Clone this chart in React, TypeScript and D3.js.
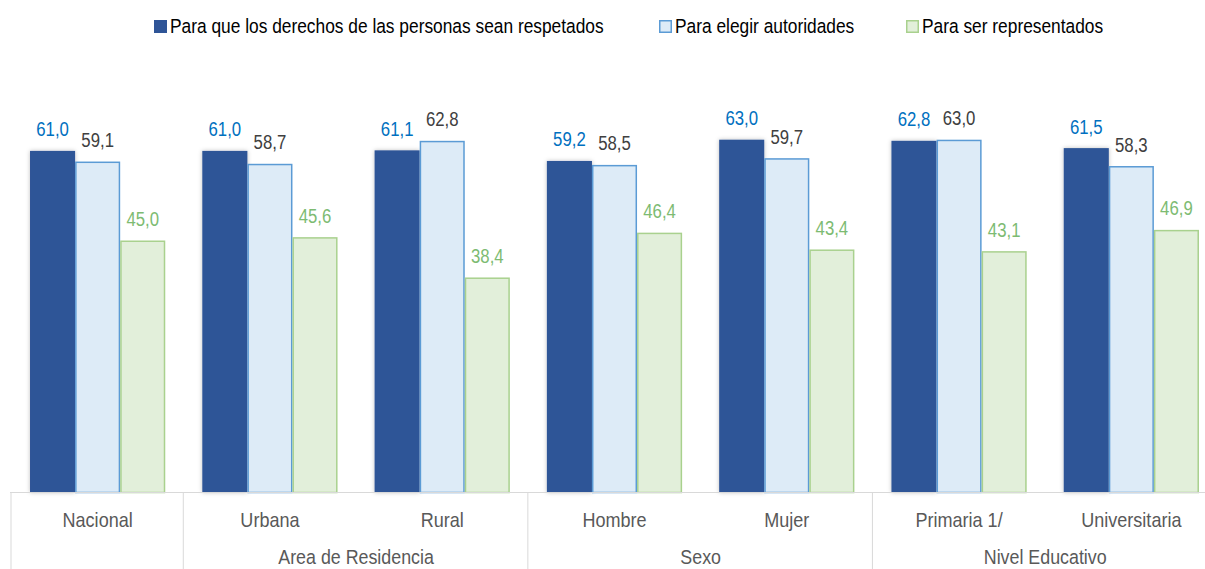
import React from "react";
import * as d3 from "d3";

const categories = ["Nacional", "Urbana", "Rural", "Hombre", "Mujer", "Primaria 1/", "Universitaria"];
const seriesNames = [
  "Para que los derechos de las personas sean respetados",
  "Para elegir autoridades",
  "Para ser representados",
];
const derechos = [61.0, 61.0, 61.1, 59.2, 63.0, 62.8, 61.5];
const autoridades = [59.1, 58.7, 62.8, 58.5, 59.7, 63.0, 58.3];
const representados = [45.0, 45.6, 38.4, 46.4, 43.4, 43.1, 46.9];
const groups = [
  { name: "", from: 0, to: 0 },
  { name: "Area de Residencia", from: 1, to: 2 },
  { name: "Sexo", from: 3, to: 4 },
  { name: "Nivel Educativo", from: 5, to: 6 },
];

const W = 1205;
const H = 569;
const FONT = "'Liberation Sans', Arial, sans-serif";

const styles = [
  { fill: "#2F5597", stroke: "#2F5597", label: "#0070C0" },
  { fill: "#DDEBF7", stroke: "#5B9BD5", label: "#404040" },
  { fill: "#E2EFDA", stroke: "#A9D18E", label: "#7DBB72" },
];

function NText(props: {
  x: number;
  y: number;
  sx: number;
  size: number;
  fill: string;
  anchor?: "start" | "middle" | "end";
  children: React.ReactNode;
}) {
  const { x, y, sx, size, fill, anchor = "middle", children } = props;
  return (
    <text
      transform={`translate(${x},${y}) scale(${sx},1)`}
      textAnchor={anchor}
      fontSize={size}
      fill={fill}
    >
      {children}
    </text>
  );
}

export default function App() {
  const data = [derechos, autoridades, representados];
  const x0 = d3
    .scaleBand<string>()
    .domain(categories)
    .range([11.5, 1217.5])
    .paddingInner(0.215)
    .paddingOuter(0.1075);
  const x1 = d3.scaleBand<number>().domain([0, 1, 2]).range([0, x0.bandwidth()]).padding(0);
  const y = d3.scaleLinear().domain([0, 70]).range([492.5, 100.5]);
  const step = x0.step();
  const left = 11.5;
  const boundary = (i: number) => left + step * i;
  const fmt = (v: number) => v.toFixed(1).replace(".", ",");
  const legendX = [154, 659, 906];

  return (
    <svg
      width={W}
      height={H}
      style={{ display: "block", position: "absolute", left: 0, top: 0 }}
      fontFamily={FONT}
    >
      <defs>
        <filter id="sh" x="-20%" y="-5%" width="140%" height="110%">
          <feDropShadow dx="0" dy="0" stdDeviation="2" floodColor="#000" floodOpacity="0.25" />
        </filter>
      </defs>
      <rect width={W} height={H} fill="#fff" />
      {/* legend */}
      {seriesNames.map((n, i) => (
        <g key={n}>
          <rect
            x={legendX[i] + 0.75}
            y={20.75}
            width={11.5}
            height={11.5}
            fill={styles[i].fill}
            stroke={styles[i].stroke}
            strokeWidth={1.5}
          />
          <NText x={legendX[i] + 16} y={33.3} sx={0.89} size={19.5} fill="#000" anchor="start">
            {n}
          </NText>
        </g>
      ))}
      {/* bars */}
      {categories.map((c, ci) => (
        <g key={c} transform={`translate(${x0(c)},0)`}>
          {data.map((s, si) => {
            const v = s[ci];
            const bx = x1(si)!;
            const bw = x1.bandwidth();
            const inset = si === 0 ? 0 : 0.75;
            return (
              <g key={si}>
                <rect
                  x={bx + inset}
                  y={y(v) + inset}
                  width={bw - 2 * inset}
                  height={y(0) - y(v) - inset}
                  fill={styles[si].fill}
                  stroke={si === 0 ? "none" : styles[si].stroke}
                  strokeWidth={1.5}
                  filter={si === 0 ? "url(#sh)" : undefined}
                />
                <NText x={bx + bw / 2} y={y(v) - 14.5} sx={0.84} size={20} fill={styles[si].label}>
                  {fmt(v)}
                </NText>
              </g>
            );
          })}
        </g>
      ))}
      {/* axis */}
      <line x1={10} x2={W} y1={492.5} y2={492.5} stroke="#D9D9D9" strokeWidth={1} />
      {[0, 1, 3, 5].map((i) => (
        <line
          key={i}
          x1={boundary(i) - 0.5}
          x2={boundary(i) - 0.5}
          y1={492.5}
          y2={H}
          stroke="#D9D9D9"
          strokeWidth={1}
        />
      ))}
      {categories.map((c) => (
        <NText key={c} x={x0(c)! + x0.bandwidth() / 2} y={527} sx={0.88} size={20.5} fill="#595959">
          {c}
        </NText>
      ))}
      {groups
        .filter((g) => g.name)
        .map((g) => (
          <NText
            key={g.name}
            x={(boundary(g.from) + boundary(g.to + 1)) / 2}
            y={564}
            sx={0.87}
            size={20.5}
            fill="#595959"
          >
            {g.name}
          </NText>
        ))}
    </svg>
  );
}
